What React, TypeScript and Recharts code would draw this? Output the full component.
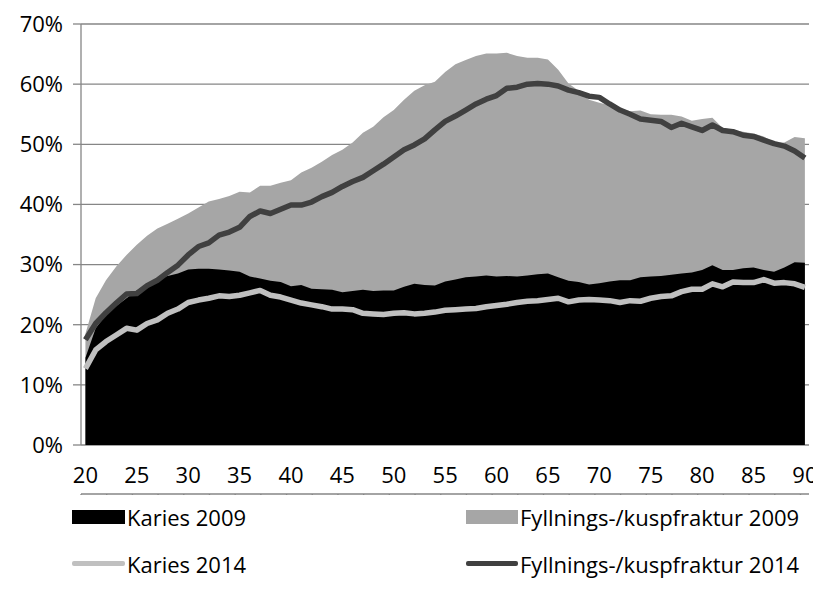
import React from 'react';
import { ComposedChart, Area, Line, XAxis, YAxis, CartesianGrid } from 'recharts';

const ages = [
  20, 21, 22, 23, 24, 25, 26, 27, 28, 29,
  30, 31, 32, 33, 34, 35, 36, 37, 38, 39,
  40, 41, 42, 43, 44, 45, 46, 47, 48, 49,
  50, 51, 52, 53, 54, 55, 56, 57, 58, 59,
  60, 61, 62, 63, 64, 65, 66, 67, 68, 69,
  70, 71, 72, 73, 74, 75, 76, 77, 78, 79,
  80, 81, 82, 83, 84, 85, 86, 87, 88, 89, 90,
];

const karies2009 = [
  14.5, 19.4, 21.6, 23.1, 24.4, 25.7, 26.8, 27.7, 28.1, 28.5,
  29.2, 29.3, 29.3, 29.2, 29.0, 28.8, 28.0, 27.7, 27.3, 27.1,
  26.4, 26.6, 26.0, 25.9, 25.8, 25.4, 25.6, 25.8, 25.6, 25.7,
  25.7, 26.3, 26.8, 26.6, 26.5, 27.2, 27.5, 27.9, 28.0, 28.2,
  28.0, 28.1, 28.0, 28.2, 28.4, 28.5, 27.9, 27.3, 27.1, 26.7,
  26.9, 27.2, 27.4, 27.4, 27.9, 28.0, 28.1, 28.3, 28.5, 28.7,
  29.1, 29.9, 29.1, 29.1, 29.4, 29.5, 29.1, 28.8, 29.5, 30.4, 30.3,
];

const fyllning2009 = [
  18.5, 24.4, 27.4, 29.7, 31.6, 33.3, 34.8, 36.0, 36.8, 37.6,
  38.5, 39.5, 40.5, 40.9, 41.4, 42.1, 42.0, 43.1, 43.1, 43.6,
  44.0, 45.3, 46.1, 47.1, 48.2, 49.1, 50.3, 51.9, 52.9, 54.5,
  55.7, 57.4, 58.9, 59.8, 60.4, 62.0, 63.3, 64.0, 64.7, 65.1,
  65.1, 65.2, 64.7, 64.4, 64.4, 64.1, 62.4, 60.1, 58.9, 57.4,
  56.9, 56.5, 56.0, 55.5, 55.6, 55.0, 54.9, 54.9, 54.6, 53.9,
  54.2, 54.4, 52.7, 52.4, 52.1, 51.8, 51.3, 50.3, 50.3, 51.2, 51.0,
];

const karies2014 = [
  12.7, 15.8, 17.2, 18.3, 19.4, 19.1, 20.2, 20.8, 21.9, 22.6,
  23.7, 24.1, 24.4, 24.8, 24.7, 24.9, 25.3, 25.7, 24.9, 24.6,
  24.1, 23.6, 23.3, 23.0, 22.6, 22.6, 22.5, 21.9, 21.8, 21.7,
  21.9, 22.0, 21.8, 21.9, 22.1, 22.4, 22.5, 22.6, 22.7, 23.0,
  23.2, 23.4, 23.7, 23.9, 24.0, 24.2, 24.4, 23.8, 24.1, 24.2,
  24.1, 24.0, 23.7, 24.0, 23.9, 24.4, 24.7, 24.8, 25.5, 25.9,
  25.9, 26.8, 26.3, 27.1, 27.0, 27.0, 27.5, 26.9, 27.0, 26.8, 26.2,
];

const fyllning2014 = [
  17.5, 20.2, 22.0, 23.6, 25.1, 25.2, 26.5, 27.4, 28.7, 29.9,
  31.6, 33.0, 33.6, 34.9, 35.4, 36.2, 38.0, 38.9, 38.5, 39.2,
  39.9, 39.9, 40.4, 41.3, 42.0, 43.0, 43.8, 44.5, 45.6, 46.7,
  47.9, 49.1, 49.9, 50.9, 52.4, 53.8, 54.7, 55.7, 56.7, 57.5,
  58.1, 59.3, 59.5, 60.0, 60.1, 60.0, 59.7, 59.0, 58.6, 58.0,
  57.8, 56.7, 55.7, 55.0, 54.2, 54.0, 53.8, 52.8, 53.5, 52.9,
  52.3, 53.2, 52.3, 52.1, 51.5, 51.3, 50.7, 50.1, 49.7, 48.9, 47.7,
];

const xLabelTicks = [20, 25, 30, 35, 40, 45, 50, 55, 60, 65, 70, 75, 80, 85, 90];
const yTicks = [0, 10, 20, 30, 40, 50, 60, 70];

const seriesNames = {
  k09: 'Karies 2009',
  f09: 'Fyllnings-/kuspfraktur 2009',
  k14: 'Karies 2014',
  f14: 'Fyllnings-/kuspfraktur 2014',
};

const COLORS = {
  k09: '#000000',
  f09: '#a6a6a6',
  k14: '#c0c0c0',
  f14: '#404040',
};

const X_MIN = 19.57;
const X_MAX = 90.4;
const minorTicks: number[] = [];
for (let k = 0; k <= 28; k++) minorTicks.push(+(X_MIN + 2.5 * k).toFixed(3));

const data = ages.map((a, i) => ({
  age: a,
  k09: karies2009[i],
  f09: fyllning2009[i],
  k14: karies2014[i],
  f14: fyllning2014[i],
}));

const FONT = '"Open Sans", "DejaVu Sans", sans-serif';
const AXIS_GRAY = '#868686';

const EmptyTick = () => <g />;

export default function App() {
  const legendText: React.CSSProperties = {
    position: 'absolute',
    fontFamily: FONT,
    fontSize: 22,
    color: '#000',
    lineHeight: '30px',
    whiteSpace: 'nowrap',
  };
  return (
    <div style={{ position: 'relative', width: 813, height: 575 }}>
      <ComposedChart
        width={813}
        height={487}
        data={data}
        margin={{ top: 16, right: 12, left: 0, bottom: 0 }}
        style={{ overflow: 'visible' }}
      >
        <CartesianGrid horizontal vertical={false} stroke={AXIS_GRAY} strokeWidth={1.3} xAxisId="lab" />
        <XAxis
          xAxisId="minor"
          type="number"
          dataKey="age"
          domain={[X_MIN, X_MAX]}
          ticks={minorTicks}
          interval={0}
          allowDataOverflow
          height={1}
          tick={EmptyTick}
          tickSize={8}
          tickLine={{ stroke: AXIS_GRAY, strokeWidth: 1.3 }}
          axisLine={{ stroke: AXIS_GRAY, strokeWidth: 1.3 }}
        />
        <XAxis
          xAxisId="lab"
          type="number"
          dataKey="age"
          domain={[X_MIN, X_MAX]}
          ticks={xLabelTicks}
          allowDataOverflow
          height={49}
          tickLine={false}
          axisLine={false}
          tickSize={0}
          tickMargin={22}
          interval={0}
          tick={{ fontFamily: FONT, fontSize: 22, fill: '#000' }}
        />
        <YAxis
          type="number"
          domain={[0, 70]}
          ticks={yTicks}
          width={73}
          tickSize={8}
          tickMargin={10}
          tickFormatter={(v: number) => `${v}%`}
          tick={{ fontFamily: FONT, fontSize: 22, fill: '#000' }}
          tickLine={{ stroke: AXIS_GRAY, strokeWidth: 1.3 }}
          axisLine={{ stroke: AXIS_GRAY, strokeWidth: 1.3 }}
          interval={0}
        />
        <Area
          xAxisId="lab"
          type="linear"
          dataKey="f09"
          name={seriesNames.f09}
          fill={COLORS.f09}
          fillOpacity={1}
          stroke="none"
          isAnimationActive={false}
          dot={false}
          activeDot={false}
        />
        <Area
          xAxisId="lab"
          type="linear"
          dataKey="k09"
          name={seriesNames.k09}
          fill={COLORS.k09}
          fillOpacity={1}
          stroke="none"
          isAnimationActive={false}
          dot={false}
          activeDot={false}
        />
        <Line
          xAxisId="lab"
          type="linear"
          dataKey="k14"
          name={seriesNames.k14}
          stroke={COLORS.k14}
          strokeWidth={5.5}
          strokeLinejoin="round"
          dot={false}
          activeDot={false}
          isAnimationActive={false}
        />
        <Line
          xAxisId="lab"
          type="linear"
          dataKey="f14"
          name={seriesNames.f14}
          stroke={COLORS.f14}
          strokeWidth={5.5}
          strokeLinejoin="round"
          dot={false}
          activeDot={false}
          isAnimationActive={false}
        />
      </ComposedChart>

      {/* Legend */}
      <div style={{ position: 'absolute', left: 64, top: 502, width: 53, height: 14, background: COLORS.k09 }} />
      <div style={{ ...legendText, left: 119, top: 494 }}>{seriesNames.k09}</div>
      <div style={{ position: 'absolute', left: 458, top: 502, width: 52, height: 14, background: COLORS.f09 }} />
      <div style={{ ...legendText, left: 512, top: 494 }}>{seriesNames.f09}</div>
      <div style={{ position: 'absolute', left: 64, top: 553, width: 53, height: 5, background: COLORS.k14, borderRadius: 2 }} />
      <div style={{ ...legendText, left: 119, top: 541 }}>{seriesNames.k14}</div>
      <div style={{ position: 'absolute', left: 458, top: 553, width: 52, height: 5, background: COLORS.f14, borderRadius: 2 }} />
      <div style={{ ...legendText, left: 512, top: 541 }}>{seriesNames.f14}</div>
    </div>
  );
}
